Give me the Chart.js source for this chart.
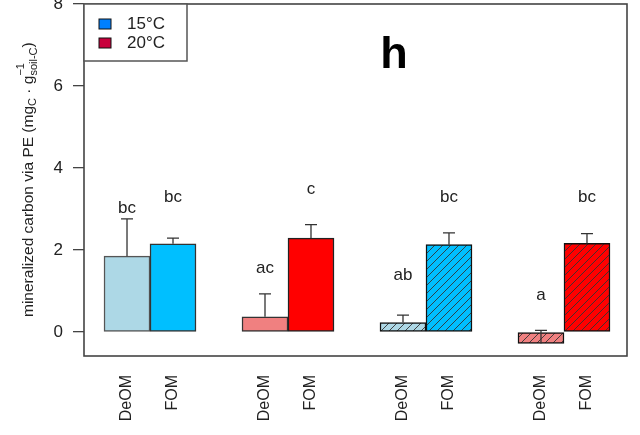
<!DOCTYPE html>
<html>
<head>
<meta charset="utf-8">
<script src="https://cdn.jsdelivr.net/npm/chart.js@4"></script>
<style>
  html, body { margin: 0; padding: 0; background: #fff; }
  #wrap { width: 640px; height: 435px; }
</style>
</head>
<body>
<div id="wrap"><canvas id="myChart" width="640" height="435"></canvas></div>
<script>
// data
const categories = ["DeOM", "FOM", "DeOM", "FOM", "DeOM", "FOM", "DeOM", "FOM"];
const slots = [0, 1, 3, 4, 6, 7, 9, 10]; // bar slot on the x axis (gaps between groups)
const values = [1.85, 2.15, 0.37, 2.29, 0.23, 2.13, -0.28, 2.16];
const errUpper = [2.76, 2.29, 0.93, 2.62, 0.41, 2.42, 0.04, 2.40];
const letters = ["bc", "bc", "ac", "c", "ab", "bc", "a", "bc"];
const letterY = [3.02, 3.29, 1.56, 3.49, 1.39, 3.29, 0.9, 3.29];
const yTicks = [0, 2, 4, 6, 8];
const legendLabels = ["15°C", "20°C"];
const legendColors = ["#0080ff", "#c8003c"];
const panelLabel = "h";

const FONT = "Arial, 'Liberation Sans', sans-serif";

// hatched fill for the last two groups
function hatch(color) {
  const c = document.createElement("canvas");
  c.width = 8; c.height = 8;
  const g = c.getContext("2d");
  g.fillStyle = color;
  g.fillRect(0, 0, 8, 8);
  g.strokeStyle = "#333";
  g.lineWidth = 0.9;
  g.beginPath();
  g.moveTo(0, 8); g.lineTo(8, 0);
  g.moveTo(-1, 1); g.lineTo(1, -1);
  g.moveTo(7, 9); g.lineTo(9, 7);
  g.stroke();
  return g.createPattern(c, "repeat");
}

const fills = [
  "#add8e6", "#00bfff",
  "#f08080", "#ff0000",
  hatch("#add8e6"), hatch("#00bfff"),
  hatch("#f08080"), hatch("#ff0000"),
];
const borders = ["#555", "#333", "#333", "#222", "#111", "#111", "#111", "#111"];

const extras = {
  id: "extras",
  afterDatasetsDraw(chart) {
    const ctx = chart.ctx;
    const xs = chart.scales.x, ys = chart.scales.y;
    const a = chart.chartArea;
    ctx.save();
    // error bars (upper only)
    ctx.strokeStyle = "#333";
    ctx.lineWidth = 1.3;
    slots.forEach((s, i) => {
      const x = xs.getPixelForValue(s);
      const y0 = ys.getPixelForValue(values[i]);
      const y1 = ys.getPixelForValue(errUpper[i]);
      ctx.beginPath();
      ctx.moveTo(x, y0); ctx.lineTo(x, y1);
      ctx.moveTo(x - 6, y1); ctx.lineTo(x + 6, y1);
      ctx.stroke();
    });
    // letters
    ctx.fillStyle = "#222";
    ctx.font = "17px " + FONT;
    ctx.textAlign = "center";
    ctx.textBaseline = "middle";
    slots.forEach((s, i) => {
      ctx.fillText(letters[i], xs.getPixelForValue(s), ys.getPixelForValue(letterY[i]));
    });
    // plot box
    ctx.strokeStyle = "#444";
    ctx.lineWidth = 1.6;
    ctx.strokeRect(a.left, a.top, a.right - a.left, a.bottom - a.top);
    // legend
    ctx.fillStyle = "#fff";
    ctx.fillRect(a.left, a.top, 103, 57);
    ctx.strokeStyle = "#555";
    ctx.lineWidth = 1.5;
    ctx.strokeRect(a.left, a.top, 103, 57);
    ctx.font = "17px " + FONT;
    ctx.textAlign = "left";
    legendLabels.forEach((lab, i) => {
      const yy = a.top + 15 + i * 19;
      ctx.fillStyle = legendColors[i];
      ctx.fillRect(a.left + 15, yy, 12, 10);
      ctx.strokeStyle = "#111";
      ctx.lineWidth = 1;
      ctx.strokeRect(a.left + 15, yy, 12, 10);
      ctx.fillStyle = "#222";
      ctx.fillText(lab, a.left + 43, yy + 5.5);
    });
    // panel letter
    ctx.fillStyle = "#000";
    ctx.font = "bold 45px " + FONT;
    ctx.textAlign = "center";
    ctx.textBaseline = "alphabetic";
    ctx.fillText(panelLabel, 394, 68);
    // y axis title with sub/superscripts
    ctx.translate(33, 317);
    ctx.rotate(-Math.PI / 2);
    ctx.fillStyle = "#222";
    ctx.textAlign = "left";
    const big = "15.5px " + FONT;
    const small = "11px " + FONT;
    let x = 0;
    function put(t, font, dy) {
      ctx.font = font;
      ctx.fillText(t, x, dy);
      return ctx.measureText(t).width;
    }
    x += put("mineralized carbon via PE (mg", big, 0);
    x += put("C", small, 3);
    x += put(" \u00b7 g", big, 0);
    const w1 = put("\u22121", small, -9);
    const w2 = put("soil-C", small, 4);
    x += Math.max(w1, w2);
    x += put(")", big, 0);
    ctx.restore();
  },
};

window.addEventListener("DOMContentLoaded", () => {
  const ctx = document.getElementById("myChart").getContext("2d");
  new Chart(ctx, {
    type: "bar",
    data: {
      datasets: [{
        data: slots.map((s, i) => ({ x: s, y: values[i] })),
        backgroundColor: fills,
        borderColor: borders,
        borderWidth: 1.5,
        borderSkipped: false,
        barPercentage: 1,
        categoryPercentage: 1,
      }],
    },
    options: {
      responsive: false,
      animation: false,
      layout: { padding: { top: 4, right: 13, left: 0, bottom: 0 } },
      plugins: { legend: { display: false }, tooltip: { enabled: false } },
      scales: {
        x: {
          type: "linear",
          offset: false,
          min: -0.935,
          max: 10.87,
          grid: { display: false, offset: false },
          border: { display: false },
          afterBuildTicks: (s) => { s.ticks = slots.map((v) => ({ value: v })); },
          afterFit: (s) => { s.height = 79; s.paddingLeft = 0; s.paddingRight = 0; },
          ticks: {
            autoSkip: false,
            minRotation: 90,
            maxRotation: 90,
            padding: 11,
            color: "#222",
            font: { family: FONT, size: 16 },
            callback: (v, i) => categories[i],
          },
        },
        y: {
          min: -0.585,
          max: 8,
          grid: { drawOnChartArea: false, tickLength: 11, color: "#444", lineWidth: 1.3 },
          border: { display: false },
          afterBuildTicks: (s) => { s.ticks = yTicks.map((v) => ({ value: v })); },
          afterFit: (s) => { s.width = 84; s.paddingTop = 0; s.paddingBottom = 0; },
          ticks: {
            padding: 10,
            color: "#222",
            font: { family: FONT, size: 17 },
          },
        },
      },
    },
    plugins: [extras],
  });
});
</script>
</body>
</html>
